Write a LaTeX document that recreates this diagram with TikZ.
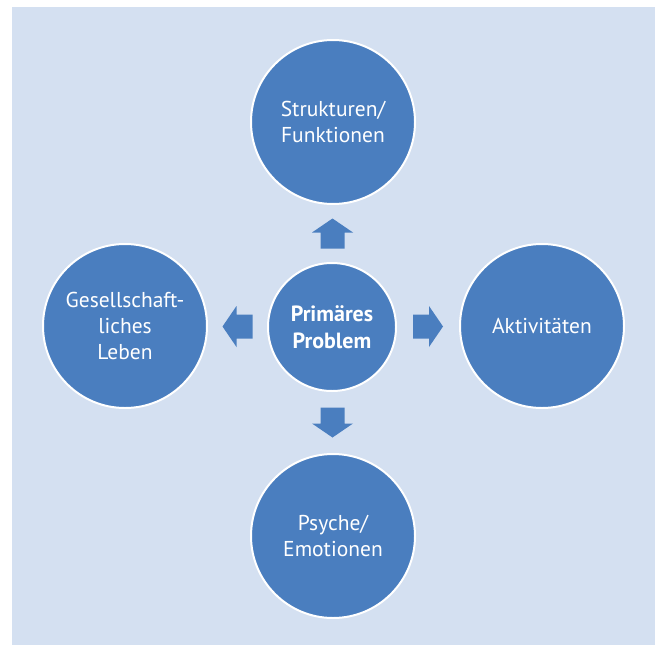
\documentclass[tikz,border=0pt]{standalone}
\usepackage{fontspec}
\setmainfont{PT Sans}
\usepackage{tikz}
\usetikzlibrary{shapes,arrows,calc}

\definecolor{bgblue}{HTML}{D4E0F1}
\definecolor{circblue}{HTML}{4A7EBF}

\tikzset{
  area/.style={circle, fill=circblue, draw=white, line width=2pt, text=white,
    align=center, inner sep=0pt, minimum size=164pt,
    font=\fontsize{21.5}{26}\selectfont},
  core/.style={area, minimum size=128pt, font=\bfseries\fontsize{22}{27}\selectfont},
  blockarrow/.pic={
    \fill[circblue] (-15,-12) -- (1,-12) -- (1,-20.5) -- (15,0) -- (1,20.5)
      -- (1,12) -- (-15,12) -- cycle;
  }
}

\begin{document}
\begin{tikzpicture}[x=1pt,y=-1pt]
			\useasboundingbox (0,0) rectangle (655,645);
			\fill[bgblue] (12,7) rectangle (655,645);
			
			\node[core] (prim) at (332,327) {Primäres\\Problem};
			
			\node[area] (struct) at (333,122) {Strukturen/\\Funktionen};
			\node[area] (gesell) at (125,326) {Gesellschaft-\\liches\\Leben};
			\node[area] (akt) at (542,326) {Aktivitäten};
			\node[area] (psy) at (333,536) {Psyche/\\Emotionen};
			
			\pic[rotate=90] at ($(prim.north)!0.5!(struct.south)$) {blockarrow};
			\pic[rotate=180] at ($(prim.west)!0.5!(gesell.east)$) {blockarrow};
			\pic at ($(prim.east)!0.5!(akt.west)$) {blockarrow};
			\pic[rotate=-90] at ($(prim.south)!0.5!(psy.north)$) {blockarrow};
\end{tikzpicture}
\end{document}
